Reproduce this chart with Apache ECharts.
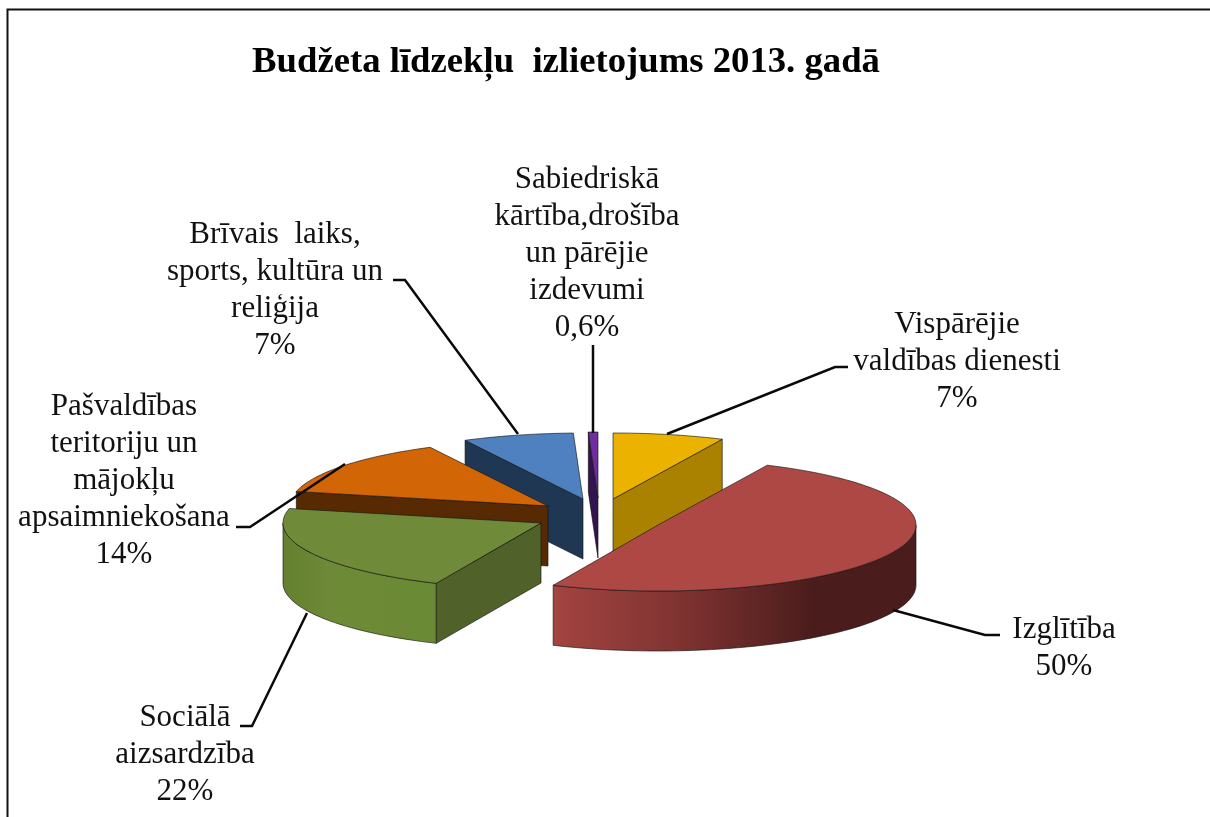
<!DOCTYPE html>
<html><head><meta charset="utf-8">
<style>html,body{margin:0;padding:0;background:#fff}#c{width:1210px;height:817px}</style>
<script src="https://cdn.jsdelivr.net/npm/echarts@6/dist/echarts.min.js"></script>
</head><body><div id="c"></div>
<script>
// Data
const categories = ['Vispārējie\nvaldības dienesti','Izglītība','Sociālā\naizsardzība','Pašvaldības\nteritoriju un\nmājokļu\napsaimniekošana','Brīvais  laiks,\nsports, kultūra un\nreliģija','Sabiedriskā\nkārtība,drošība\nun pārējie\nizdevumi'];
const values = [7, 50, 22, 14, 7, 0.6];
const valueLabels = ['7%','50%','22%','14%','7%','0,6%'];
const titleText = 'Budžeta līdzekļu  izlietojums 2013. gadā';

// Styles and layout
const topColors = ['#ecb200','#ae4845','#6f8a38','#d26505','#4f81c0','#6f2da0'];
const edgeColors = ['#ab8200','#4a1c1c','#50622a','#582a04','#203754','#33144f'];
const arcWall = [
  null,
  [[0,'#a34441'],[0.35,'#7f3331'],[0.72,'#4a1c1c'],[1,'#4a1c1c']],
  [[0,'#63802f'],[0.3,'#6e8a38'],[1,'#6b8a35']],
  [[0,'#582a04'],[1,'#582a04']], null, null
];
const apexes = [[613,499],[658,525],[541,523],[548,506],[583,499],[598,498]];
const drawOrder = [4,5,0,3,2,1];
const RX = 258, RY = 66, DEPTH = 60;
const labelPos = [[957,362],[1064,648.5],[185,755],[124,481],[275,290],[587,254]];
const leaders = [
  [[667,434],[835,367],[848,367]],
  [[893,610],[985,635],[1000,635]],
  [[307,613],[252,726],[240,726]],
  [[345,464],[250,527],[236,527]],
  [[518,434],[405,280],[393,280]],
  [[593,433],[593,345]]
];

const total = values.reduce((a,b)=>a+b,0);
const spans = []; let acc = 0;
values.forEach(v=>{ const s = acc/total*360; acc += v; spans.push([s, acc/total*360]); });
const rad = d => d*Math.PI/180;
const pt = (c,a) => [c[0]+RX*Math.sin(rad(a)), c[1]-RY*Math.cos(rad(a))];
const arcPts = (c,a,b) => { const o=[], n=Math.max(2,Math.ceil(Math.abs(b-a)/2)); for(let i=0;i<=n;i++) o.push(pt(c,a+(b-a)*i/n)); return o; };
const down = p => [p[0],p[1]+DEPTH];
const poly = (points,fill,z) => ({type:'polygon',z2:z,shape:{points},style:{fill,stroke:'rgba(20,20,15,0.8)',lineWidth:0.8,lineJoin:'round'}});

function renderSlice(params){
  const i = drawOrder[params.dataIndex];
  const c = apexes[i], a = spans[i][0], b = spans[i][1];
  const kids = [];
  // radial faces whose outward normal points towards the viewer
  if (Math.cos(rad(a-90)) < -0.001) { const e=pt(c,a); kids.push(poly([c,e,down(e),down(c)],edgeColors[i],1)); }
  if (Math.cos(rad(b+90)) < -0.001) { const e=pt(c,b); kids.push(poly([c,e,down(e),down(c)],edgeColors[i],1)); }
  // curved outer wall, front half only
  const wa = Math.max(a,90), wb = Math.min(b,270);
  if (wb > wa && arcWall[i]) {
    const upper = arcPts(c,wa,wb), lower = upper.map(down).reverse();
    const fill = new echarts.graphic.LinearGradient(0,0,1,0,arcWall[i].map(s=>({offset:s[0],color:s[1]})));
    kids.push(poly(upper.concat(lower),fill,2));
  }
  kids.push(poly([c].concat(arcPts(c,a,b)),topColors[i],3));
  return {type:'group',children:kids};
}

const graphics = [
  {type:'polyline',z:5,shape:{points:[[7.5,817],[7.5,9.5],[1210,9.5]]},style:{fill:null,stroke:'#111',lineWidth:2}}
];
leaders.forEach(l=>graphics.push({type:'polyline',z:20,shape:{points:l},style:{fill:null,stroke:'#0a0a0a',lineWidth:2.5}}));
categories.forEach((name,i)=>graphics.push({type:'text',z:21,x:labelPos[i][0],y:labelPos[i][1],
  style:{text:name+'\n'+valueLabels[i],fill:'#111',font:'31px "Liberation Serif"',lineHeight:37,align:'center',verticalAlign:'middle'}}));

const chart = echarts.init(document.getElementById('c'),null,{renderer:'canvas'});
chart.setOption({
  animation:false,
  backgroundColor:'#fff',
  title:{text:titleText,left:561,top:39,textAlign:'center',textStyle:{fontFamily:'Liberation Serif',fontWeight:'bold',fontSize:36.7,color:'#000'}},
  series:[{type:'custom',coordinateSystem:'none',renderItem:renderSlice,data:drawOrder.map(i=>values[i]),silent:true,clip:false}],
  graphic:graphics
});
</script></body></html>
